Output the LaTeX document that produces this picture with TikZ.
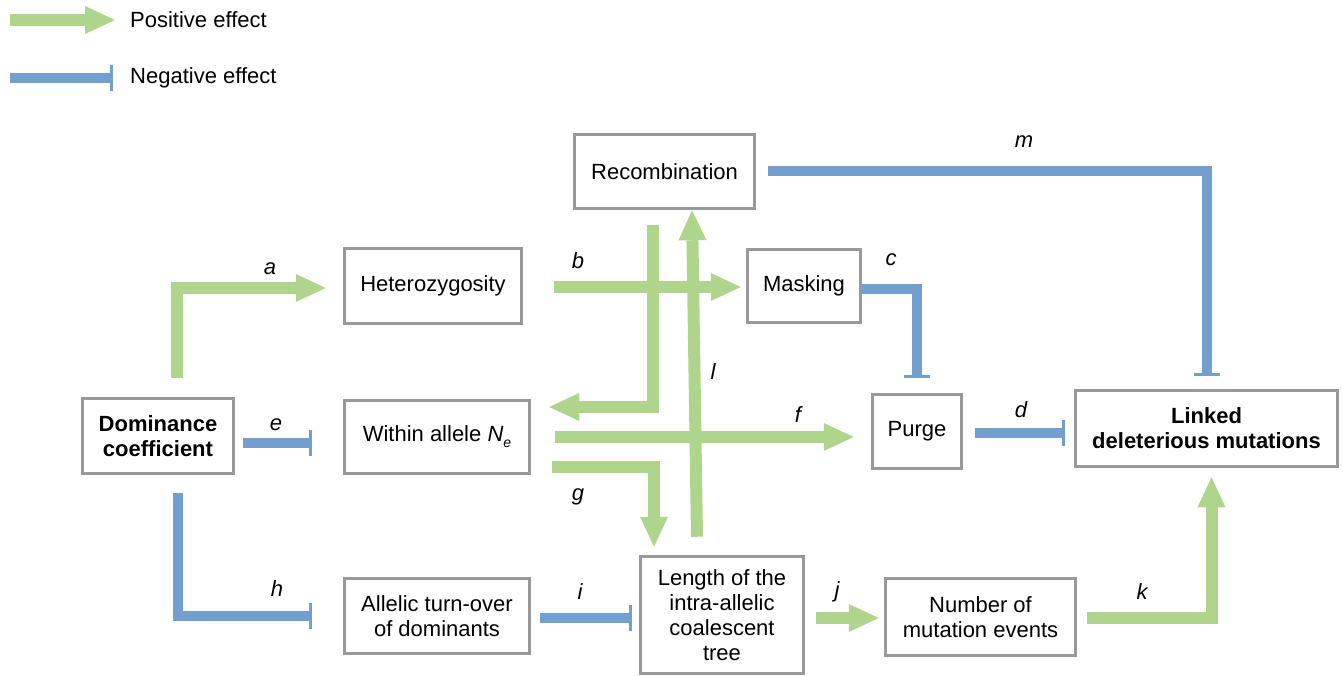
\documentclass[tikz,border=0pt]{standalone}
\usepackage{fontspec}
\setmainfont{Liberation Sans}
\usetikzlibrary{arrows.meta}
\definecolor{posgreen}{RGB}{175,213,140}
\definecolor{negblue}{RGB}{114,159,207}
\definecolor{boxgray}{RGB}{153,153,153}
\begin{document}
\begin{tikzpicture}[x=1pt, y=-1pt,
  font=\fontsize{22}{25}\selectfont,
  box/.style={draw=boxgray, line width=3.5pt, fill=white, align=center, inner sep=2pt},
  lbl/.style={font=\fontsize{22}{25}\selectfont\itshape, inner sep=0pt},
  posarrow/.style={draw=posgreen, line width=12pt, -{Triangle[length=30pt,width=28pt,line width=0pt]}},
  negarrow/.style={draw=negblue, line width=10pt, -{Bar[width=26pt,line width=3pt]}}]
\useasboundingbox (0,0) rectangle (1343,676);

% Legend
\coordinate (posstart) at (10,20);
\node[anchor=west, inner sep=0pt] (postext) at (130,20) {Positive effect};
\draw[posarrow] (posstart) -- ([xshift=-15pt]postext.west);
\coordinate (negstart) at (10,78);
\node[anchor=west, inner sep=0pt] (negtext) at (130,78) {Negative effect};
\draw[negarrow] (negstart) -- ([xshift=-17pt]negtext.west);

% Boxes
\node[box, minimum width=180pt, minimum height=74pt] (rec) at (664.5,171.5) {Recombination};
\node[box, minimum width=177pt, minimum height=75pt] (het) at (433,286) {Heterozygosity};
\node[box, minimum width=113pt, minimum height=73pt] (mask) at (804,286) {Masking};
\node[box, minimum width=151pt, minimum height=75pt, font=\fontsize{22}{25}\selectfont\bfseries] (dom) at (158,436) {Dominance\\coefficient};
\node[box, minimum width=185pt, minimum height=73pt] (within) at (437,437) {Within allele \textit{N}\raisebox{-6pt}{\fontsize{14}{14}\selectfont\itshape e}};
\node[box, minimum width=89pt, minimum height=74pt] (purge) at (917,431.5) {Purge};
\node[box, minimum width=262pt, minimum height=76pt, font=\fontsize{22}{25}\selectfont\bfseries] (linked) at (1206.5,428.5) {Linked\\deleterious mutations};
\node[box, minimum width=185pt, minimum height=75pt] (allelic) at (437,616) {Allelic turn-over\\of dominants};
\node[box, minimum width=163pt, minimum height=117pt] (length) at (722,615) {Length of the\\intra-allelic\\coalescent\\tree};
\node[box, minimum width=190pt, minimum height=77pt] (number) at (980.5,617) {Number of\\mutation events};

% Effects
\draw[posarrow] ([xshift=19pt,yshift=19pt]dom.north) |- ([xshift=-17pt,yshift=-2pt]het.west);
\draw[posarrow] ([xshift=31pt,yshift=-1pt]het.east) -- ([xshift=-5pt,yshift=-1pt]het.east -| mask.west);
\draw[negarrow] ([yshift=-3pt]mask.east) -| ([yshift=15pt]purge.north);
\draw[posarrow] ([xshift=-12pt,yshift=-15pt]rec.south) |- ([xshift=18pt,yshift=30pt]within.east);
\draw[posarrow] ([xshift=-25pt,yshift=18pt]length.north) -- ([xshift=27.5pt]rec.south);
\draw[posarrow] ([xshift=24pt]within.east) -- ([xshift=-17pt]within.east -| purge.west);
\draw[posarrow] ([xshift=21pt,yshift=-30pt]within.east) -| ([xshift=-68pt,yshift=8pt]length.north);
\draw[negarrow] ([xshift=12pt,yshift=-1.5pt]purge.east) -- ([xshift=-9pt,yshift=-1.5pt]purge.east -| linked.west);
\draw[negarrow] ([xshift=8pt,yshift=-7pt]dom.east) -- ([xshift=-31pt,yshift=-7pt]dom.east -| within.west);
\draw[negarrow] ([xshift=20pt,yshift=-18pt]dom.south) |- ([xshift=-31pt]allelic.west);
\draw[negarrow] ([xshift=9pt,yshift=-2pt]allelic.east) -- ([xshift=-7pt,yshift=-2pt]allelic.east -| length.west);
\draw[posarrow] ([xshift=11pt,yshift=-3pt]length.east) -- ([xshift=-5pt,yshift=-3pt]length.east -| number.west);
\draw[posarrow] ([xshift=10pt,yshift=-1pt]number.east) -| ([xshift=5pt,yshift=-9pt]linked.south);
\draw[negarrow] ([xshift=12pt]rec.east) -| ([yshift=13pt]linked.north);

% Labels
\node[lbl] (la) at (270,269) {a};
\node[lbl] (lb) at (578,261) {b};
\node[lbl] (lc) at (891,260) {c};
\node[lbl] (ld) at (1021,410) {d};
\node[lbl] (le) at (276,425) {e};
\node[lbl] (lf) at (798,415) {f};
\node[lbl] (lg) at (578,497) {g};
\node[lbl] (lh) at (277,589) {h};
\node[lbl] (li) at (580,592) {i};
\node[lbl] (lj) at (837,592) {j};
\node[lbl] (lk) at (1142,592) {k};
\node[lbl] (ll) at (713,372) {l};
\node[lbl] (lm) at (1024,142) {m};
\end{tikzpicture}
\end{document}
